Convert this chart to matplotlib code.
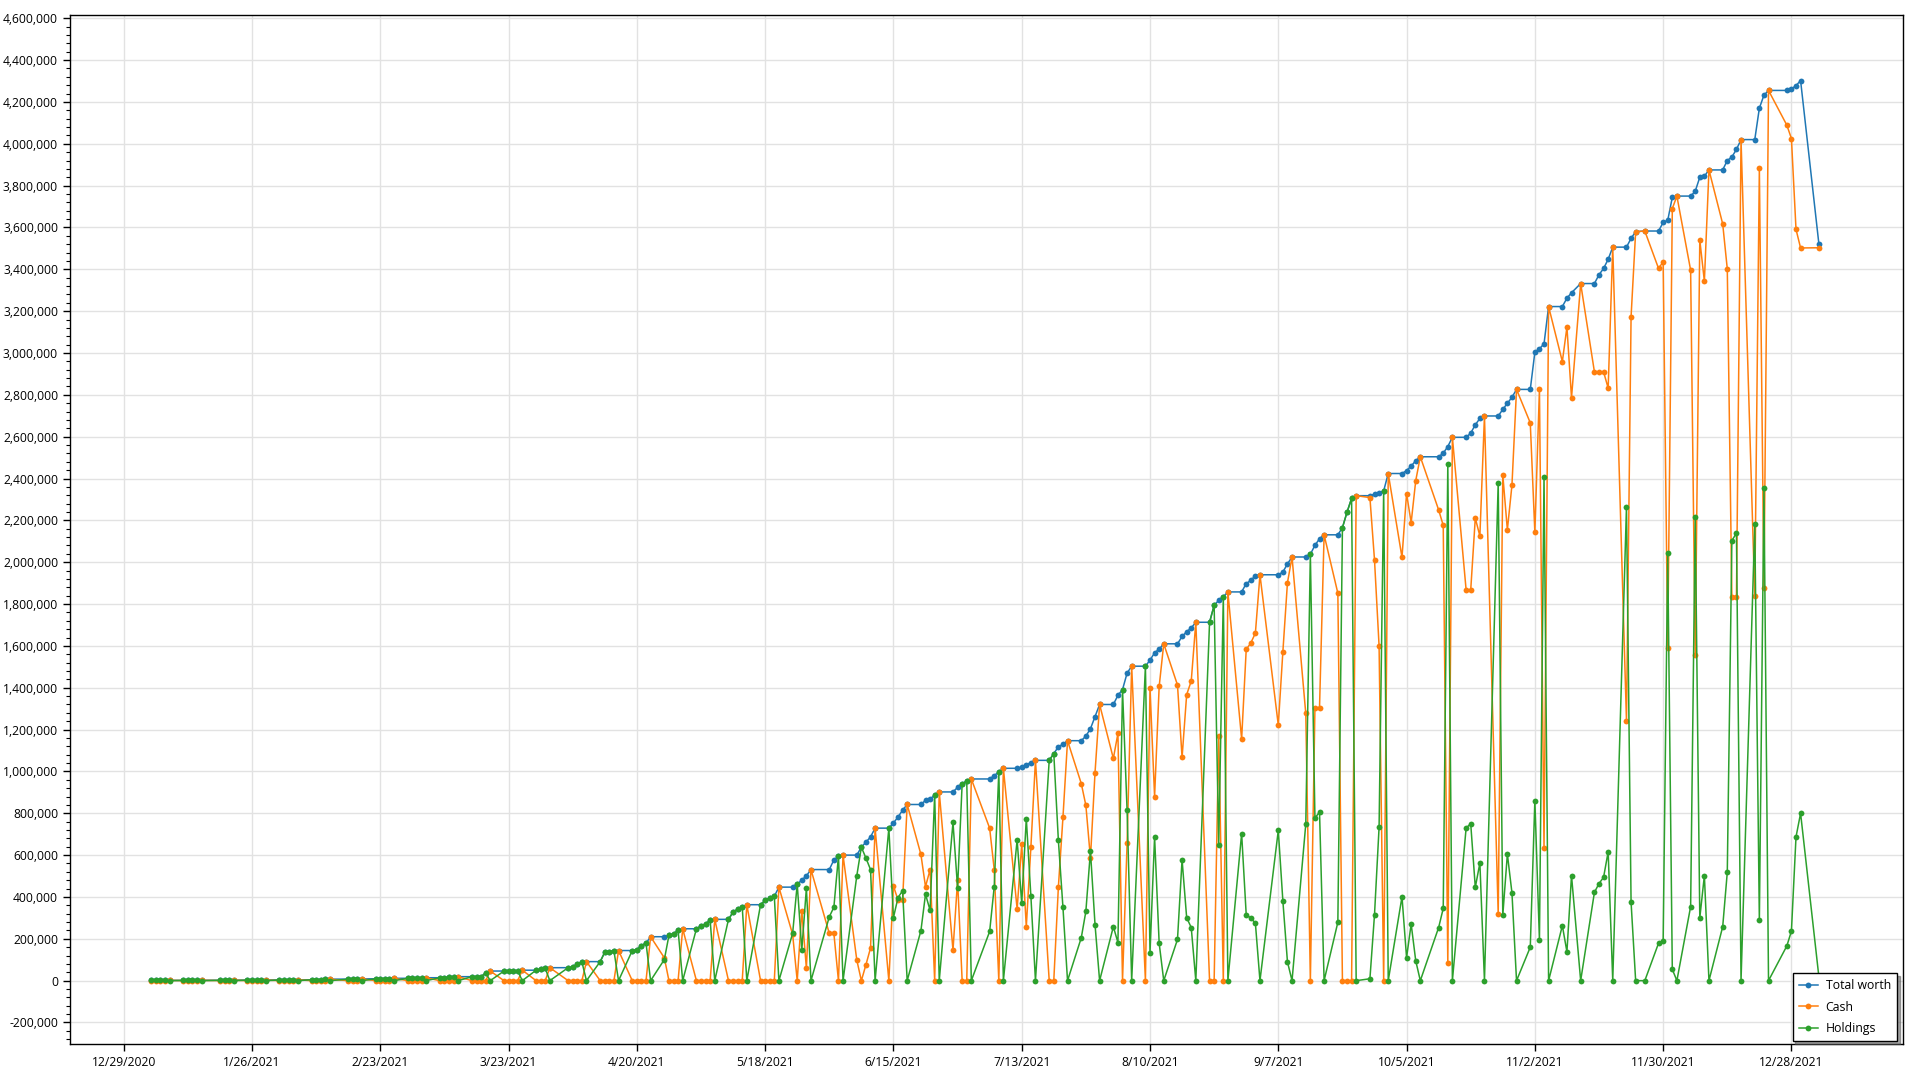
import pandas as pd
import numpy as np
import matplotlib
matplotlib.use("Agg")
import matplotlib.pyplot as plt
from matplotlib.ticker import FuncFormatter, MultipleLocator

# trading days (market closed on these)
holidays = ["2021-01-01", "2021-01-18", "2021-02-15", "2021-04-02", "2021-05-31",
            "2021-07-05", "2021-09-06", "2021-10-11", "2021-11-11", "2021-11-25",
            "2021-12-24", "2021-12-31"]
days = pd.bdate_range("2021-01-04", "2022-01-03")
days = days[~days.isin(pd.to_datetime(holidays))]

# values in thousands, one row per week
total_k = [
    1.0, 1.0, 1.1, 1.2, 1.3,
    1.3, 1.4, 1.5, 1.6, 1.7,
    1.7, 1.9, 2.1, 2.3,
    2.3, 2.5, 2.7, 2.9, 3.0,
    3.0, 3.3, 3.6, 3.9, 4.2,
    4.2, 4.8, 5.4, 6.0, 7.0,
    7.0, 7.5, 8.0, 8.5,
    8.5, 9.0, 9.5, 10.0, 11.0,
    11, 11.5, 12, 13, 14,
    14, 15, 16, 17, 19,
    19, 19, 19, 37, 46,
    46, 46, 46, 46, 50,
    50, 54, 59, 62,
    62, 64, 80, 90, 91,
    91, 136, 139, 142, 144,
    144, 147, 168, 179, 210,
    210, 216, 224, 240, 248,
    248, 261, 272, 288, 293,
    293, 328, 341, 352, 363,
    363, 384, 395, 403, 447,
    447, 461, 481, 501, 531,
    531, 577, 595, 600,
    600, 638, 662, 687, 729,
    729, 754, 782, 815, 842,
    842, 862, 867, 888, 902,
    902, 924, 942, 953, 964,
    964, 980, 998, 1015,
    1015, 1021, 1033, 1042, 1053,
    1053, 1085, 1118, 1130, 1147,
    1147, 1169, 1204, 1262, 1320,
    1320, 1364, 1391, 1470, 1503,
    1503, 1532, 1567, 1585, 1610,
    1610, 1645, 1668, 1686, 1713,
    1713, 1794, 1818, 1835, 1858,
    1858, 1898, 1913, 1936, 1940,
    1940, 1953, 1992, 2025,
    2025, 2038, 2081, 2112, 2131,
    2131, 2165, 2239, 2305, 2318,
    2318, 2326, 2333, 2341, 2424,
    2424, 2438, 2460, 2485, 2504,
    2504, 2521, 2553, 2597,
    2597, 2617, 2657, 2687, 2699,
    2699, 2730, 2760, 2788, 2826,
    2826, 3004, 3020, 3044, 3222,
    3222, 3262, 3288, 3332,
    3332, 3374, 3404, 3448, 3506,
    3506, 3548, 3580, 3583,
    3583, 3624, 3634, 3744, 3750,
    3750, 3773, 3840, 3845, 3875,
    3875, 3920, 3937, 3973, 4020,
    4020, 4170, 4232, 4255,
    4255, 4262, 4278, 4302,
    3520,
]

cash_k = [
    0, 0, 0, 0, 1.3,
    0, 0, 0, 0, 1.7,
    0, 0, 0, 2.3,
    0, 0, 0, 0, 3.0,
    0, 0, 0, 0, 4.2,
    0, 0, 0, 0, 7.0,
    0, 0, 0, 8.5,
    0, 0, 0, 0, 11.0,
    0, 0, 0, 0, 14,
    0, 0, 0, 0, 19,
    0, 0, 0, 0, 46,
    0, 0, 0, 0, 50,
    0, 0, 0, 62,
    0, 0, 0, 0, 91,
    0, 0, 0, 0, 144,
    0, 0, 0, 0, 210,
    109, 0, 0, 0, 248,
    0, 0, 0, 0, 293,
    0, 0, 0, 0, 363,
    0, 0, 0, 0, 447,
    221, 0, 334, 59, 531,
    226, 226, 0, 600,
    99, 0, 76, 156, 729,
    0, 453, 385, 385, 842,
    603, 449, 531, 0, 902,
    146, 480, 0, 0, 964,
    729, 531, 0, 1015,
    342, 651, 258, 638, 1053,
    0, 0, 447, 780, 1147,
    942, 838, 585, 994, 1320,
    1062, 1182, 0, 656, 1503,
    0, 1398, 880, 1406, 1610,
    1413, 1067, 1367, 1432, 1713,
    0, 0, 1168, 0, 1858,
    1155, 1583, 1614, 1661, 1940,
    1222, 1572, 1902, 2025,
    1277, 0, 1305, 1305, 2131,
    1852, 0, 0, 0, 2318,
    2309, 2011, 1600, 0, 2424,
    2023, 2328, 2189, 2390, 2504,
    2250, 2176, 83, 2597,
    1867, 1867, 2211, 2125, 2699,
    319, 2418, 2155, 2368, 2826,
    2666, 2143, 2826, 636, 3222,
    2959, 3124, 2786, 3332,
    2910, 2910, 2910, 2832, 3506,
    1240, 3173, 3580, 3583,
    3404, 3436, 1592, 3690, 3750,
    3396, 1555, 3540, 3343, 3875,
    3617, 3402, 1834, 1834, 4020,
    1839, 3882, 1878, 4255,
    4089, 4025, 3591, 3502,
    3503,
]

holdings_k = [
    1.0, 1.0, 1.1, 1.2, 0,
    1.3, 1.4, 1.5, 1.6, 0,
    1.7, 1.9, 2.1, 0,
    2.3, 2.5, 2.7, 2.9, 0,
    3.0, 3.3, 3.6, 3.9, 0,
    4.2, 4.8, 5.4, 6.0, 0,
    7.0, 7.5, 8.0, 0,
    8.5, 9.0, 9.5, 10.0, 0,
    11, 11.5, 12, 13, 0,
    14, 15, 16, 17, 0,
    19, 19, 19, 37, 0,
    46, 46, 46, 46, 0,
    50, 54, 59, 0,
    62, 64, 80, 90, 0,
    91, 136, 139, 142, 0,
    144, 147, 168, 179, 0,
    101, 216, 224, 240, 0,
    248, 261, 272, 288, 0,
    293, 328, 341, 352, 0,
    363, 384, 395, 403, 0,
    226, 461, 147, 442, 0,
    305, 351, 595, 0,
    501, 638, 586, 531, 0,
    729, 301, 397, 430, 0,
    239, 413, 336, 888, 0,
    756, 444, 942, 953, 0,
    235, 449, 998, 0,
    673, 370, 775, 404, 0,
    1053, 1085, 671, 350, 0,
    205, 331, 619, 268, 0,
    258, 182, 1391, 814, 0,
    1503, 134, 687, 179, 0,
    197, 578, 301, 254, 0,
    1713, 1794, 650, 1835, 0,
    703, 315, 299, 275, 0,
    718, 381, 90, 0,
    748, 2038, 776, 807, 0,
    279, 2165, 2239, 2305, 0,
    9, 315, 733, 2341, 0,
    401, 110, 271, 95, 0,
    254, 345, 2470, 0,
    730, 750, 446, 562, 0,
    2380, 312, 605, 420, 0,
    160, 861, 194, 2408, 0,
    263, 138, 502, 0,
    422, 464, 494, 616, 0,
    2266, 375, 0, 0,
    179, 188, 2042, 54, 0,
    354, 2218, 300, 502, 0,
    258, 518, 2103, 2139, 0,
    2181, 288, 2354, 0,
    166, 237, 687, 800,
    17,
]

series = [("Total worth", total_k, "#1f77b4"),
          ("Cash", cash_k, "#ff7f0e"),
          ("Holdings", holdings_k, "#2ca02c")]

plt.rcParams["font.family"] = ["Open Sans", "DejaVu Sans"]

fig = plt.figure(figsize=(19.2, 10.8), dpi=100)
ax = fig.add_axes([0.0364, 0.0329, 0.9547, 0.9535])

for name, vals, col in series:
    ax.plot(days, np.array(vals) * 1000, color=col, lw=1.1, marker="o",
            markersize=4.2, markeredgewidth=0, label=name)

ax.set_xlim(pd.Timestamp("2020-12-17 06:00"), pd.Timestamp("2022-01-21 08:00"))
ax.set_ylim(-305000, 4617000)

ticks = pd.date_range("2020-12-29", periods=14, freq="28D")
ax.set_xticks(ticks)
ax.set_xticklabels([f"{d.month}/{d.day}/{d.year}" for d in ticks])
ax.yaxis.set_major_locator(MultipleLocator(200000))
ax.yaxis.set_minor_locator(MultipleLocator(40000))
ax.yaxis.set_major_formatter(FuncFormatter(lambda v, p: f"{v:,.0f}"))

ax.tick_params(axis="both", which="major", labelsize=8.7, length=5, width=1, colors="black")
ax.tick_params(axis="y", which="minor", length=3, width=0.8)
ax.grid(True, which="major", color="#e2e2e2", lw=1)
ax.set_axisbelow(True)
for s in ax.spines.values():
    s.set_color("black")
    s.set_linewidth(1)

leg = ax.legend(loc="lower right", bbox_to_anchor=(0.9967, 0.003), borderaxespad=0,
                fontsize=8.8, fancybox=False, shadow=True, edgecolor="black",
                framealpha=1, labelspacing=0.7, handlelength=1.6, handletextpad=0.6,
                borderpad=0.5)
leg.get_frame().set_linewidth(1)

fig.savefig("out.png", dpi=100)
